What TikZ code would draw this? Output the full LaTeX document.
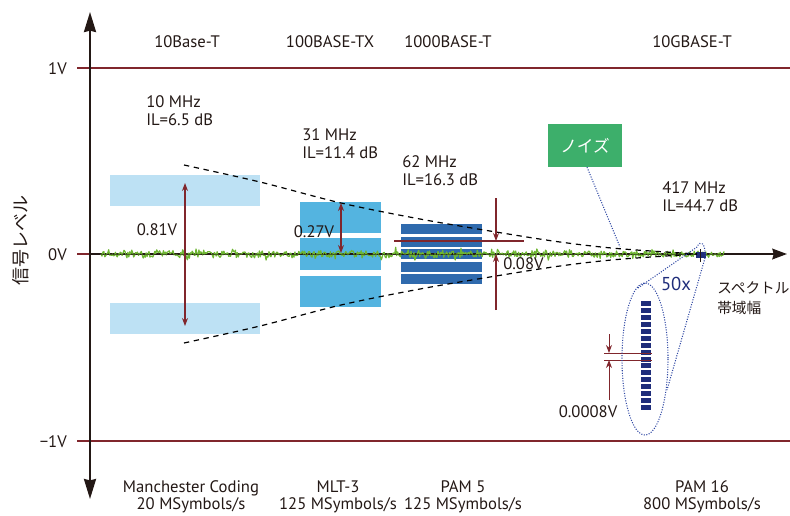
\documentclass[tikz,border=0pt]{standalone}
\usepackage{fontspec}
\setmainfont{PT Sans}
\newfontfamily\jp{Noto Sans CJK JP}
\usetikzlibrary{arrows.meta}
\definecolor{txt}{RGB}{35,24,21}
\definecolor{axisc}{RGB}{35,24,21}
\definecolor{dred}{RGB}{128,38,44}
\definecolor{lblue}{RGB}{189,225,244}
\definecolor{mblue}{RGB}{84,180,224}
\definecolor{dblue}{RGB}{47,106,173}
\definecolor{navy}{RGB}{31,45,122}
\definecolor{gbox}{RGB}{61,175,107}
\definecolor{noisec}{RGB}{110,182,50}
\definecolor{dotc}{RGB}{50,75,165}
\begin{document}
\begin{tikzpicture}[x=0.75pt,y=-0.75pt,
  every node/.style={text=txt, inner sep=0pt},
  lbl/.style={font=\fontsize{12.5}{13.5}\selectfont},
  twol/.style={lbl, align=left, anchor=west},
  twoc/.style={font=\fontsize{12.5}{12.8}\selectfont, align=center},
  axisline/.style={axisc, line width=1.6pt},
  levelline/.style={dred, line width=0.9pt},
  dimline/.style={dred, line width=0.9pt},
  dimarrow/.style={dred, line width=0.9pt, {Stealth[length=6pt,width=4.5pt]}-{Stealth[length=6pt,width=4.5pt]}},
  dimhead/.style={dred, line width=0.9pt, -{Stealth[length=6pt,width=4.5pt]}},
  envelope/.style={dashed, dash pattern=on 4pt off 3.5pt, line width=0.9pt, black},
  zoomline/.style={dotc, line width=0.8pt, dash pattern=on 0.8pt off 1.1pt},
]
\useasboundingbox (0,0) rectangle (790,515);

% level boxes
\fill[lblue] (110,175) rectangle (260,206);
\fill[lblue] (110,303) rectangle (260,334);
\fill[mblue] (300,202) rectangle (381,233);
\fill[mblue] (300,238) rectangle (381,270);
\fill[mblue] (300,276) rectangle (381,307);
\foreach \yc in {229,241.5,254,266.5,279}
  \fill[dblue] (401,\yc-5) rectangle (482,\yc+5);
\foreach \i in {0,...,15}
  \fill[navy] (641,301+\i*6.94) rectangle (651,306+\i*6.94);

% level lines
\coordinate (l1a) at (77,68);  \coordinate (l1b) at (790,68);
\coordinate (l0a) at (77,254); \coordinate (l0b) at (92,254);
\coordinate (lma) at (77,441); \coordinate (lmb) at (790,441);
\draw[levelline] (l1a) -- (l1b);
\draw[levelline] (l0a) -- (l0b);
\draw[levelline] (lma) -- (lmb);

% axes
\coordinate (ytop) at (90,12);
\coordinate (ybot) at (90,499);
\coordinate (xo) at (90,254);
\coordinate (xend) at (787,254);
\draw[axisline, {Stealth[length=15pt,width=9pt,inset=1pt]}-{Stealth[length=15pt,width=9pt,inset=1pt]}] (ytop) -- (ybot);
\draw[axisline, line width=1.4pt, -{Stealth[length=11pt,width=8pt,inset=1pt]}] (xo) -- (xend);

% noise
\pgfmathsetseed{12}
\draw[noisec, line width=0.9pt, line join=round] plot[domain=101:724, samples=650, variable=\t]
  (\t,{254+3.2*rand+7*rand*rand*rand});
\draw[axisc, opacity=0.5, line width=0.4pt] (101,254) -- (724,254);
\fill[navy] (696,252) rectangle (706,257.5);

% envelopes
\draw[envelope] plot[smooth, tension=0.55] coordinates {(184,165) (260,182) (341,203) (420,219) (496,232) (560,242) (617,248.5) (697,254)};
\draw[envelope] plot[smooth, tension=0.55] coordinates {(184,343) (260,326) (341,305) (420,289) (496,276) (560,266) (617,259.5) (697,254)};

% dimension 10Base-T
\coordinate (d1t) at (185,183); \coordinate (d1b) at (185,326);
\draw[dimarrow] (d1t) -- (d1b);
% dimension 100BASE-TX
\coordinate (d2t) at (341,203); \coordinate (d2b) at (341,253);
\draw[dimarrow] (d2t) -- (d2b);
% dimension 1000BASE-T
\coordinate (h3a) at (394,241); \coordinate (h3b) at (524,241);
\draw[dimline] (h3a) -- (h3b);
\coordinate (v3t) at (496,198); \coordinate (v3m) at (496,241);
\coordinate (v3b) at (496,310); \coordinate (v3n) at (496,254);
\draw[dimhead] (v3t) -- (v3m);
\draw[dimhead] (v3b) -- (v3n);
% dimension 10GBASE-T
\coordinate (h4a) at (604,353); \coordinate (h4b) at (652,353);
\coordinate (h4c) at (604,360); \coordinate (h4d) at (652,360);
\draw[dimline, line width=0.7pt] (h4a) -- (h4b);
\draw[dimline, line width=0.7pt] (h4c) -- (h4d);
\coordinate (v4t) at (609,334); \coordinate (v4b) at (609,400);
\draw[dimhead, line width=0.7pt] (v4t) -- (h4a -| v4t);
\draw[dimhead, line width=0.7pt] (v4b) -- (h4c -| v4b);
\coordinate (tk1) at (700,249); \coordinate (tk2) at (700,262);
\draw[axisc, line width=0.6pt] (tk1) -- (tk2);

% zoom callout
\draw[zoomline] (645,359) ellipse [x radius=23, y radius=76];
\draw[zoomline] (638,288) -- (697,247) .. controls (700,240) and (706,242) .. (705,258) -- (667,390);

% noise label
\node[fill=gbox, minimum width=55.5pt, minimum height=32pt, text=white, font=\jp\fontsize{12.5}{14}\selectfont] (noise) at (585,145.5) {ノイズ};
\coordinate (noisept) at (620,247);
\draw[zoomline] (noise.south) ++(2,0) -- (noisept);

% axis labels
\node[lbl, anchor=east] (v1) at (67,69) {1V};
\node[lbl, anchor=east] (v0) at (67,255) {0V};
\node[lbl, anchor=east] (vm1) at (67,442) {−1V};
\node[rotate=90, font=\jp\fontsize{13.5}{15}\selectfont] (sig) at (21,240) {信号レベル};
\node[font=\jp\fontsize{11}{15}\selectfont, align=left, anchor=west] (spec) at (717,298) {スペクトル\\帯域幅};

% top labels
\node[lbl] (s1) at (187,42) {10Base-T};
\node[lbl] (s2) at (330,42) {100BASE-TX};
\node[lbl] (s3) at (448,42) {1000BASE-T};
\node[lbl] (s4) at (692,42) {10GBASE-T};

% frequency labels
\node[twol] (f1) at (146,111) {10 MHz\\IL=6.5 dB};
\node[twol] (f2) at (302,144) {31 MHz\\IL=11.4 dB};
\node[twol] (f3) at (402,171) {62 MHz\\IL=16.3 dB};
\node[twol] (f4) at (662,197) {417 MHz\\IL=44.7 dB};

% amplitude labels
\node[lbl] (a1) at (157,230) {0.81V};
\node[lbl] (a2) at (314,232) {0.27V};
\node[lbl, anchor=west] (a3) at (503,264) {0.08V};
\node[lbl] (a4) at (588,412) {0.0008V};
\node[lbl, text=navy, font=\fontsize{14}{15}\selectfont] (zx) at (676,284) {50x};

% bottom labels
\node[twoc] (b1) at (191,497) {Manchester Coding\\20 MSymbols/s};
\node[twoc] (b2) at (338,497) {MLT-3\\125 MSymbols/s};
\node[twoc] (b3) at (463,497) {PAM 5\\125 MSymbols/s};
\node[twoc] (b4) at (702,497) {PAM 16\\800 MSymbols/s};
\end{tikzpicture}
\end{document}
